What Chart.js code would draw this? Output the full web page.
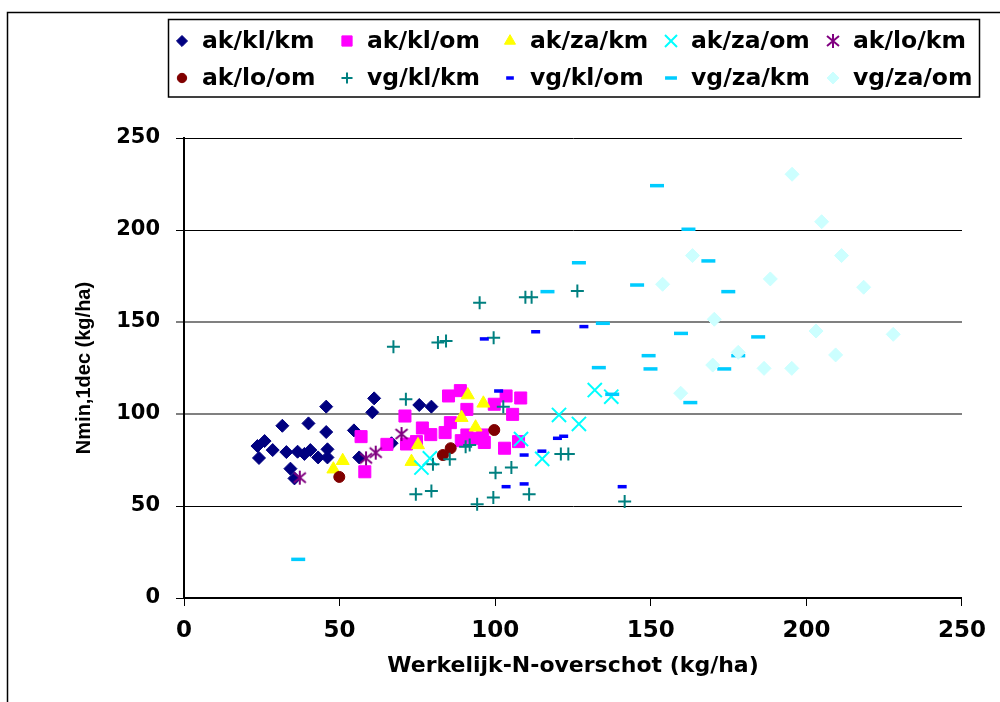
<!DOCTYPE html>
<html>
<head>
<meta charset="utf-8">
<title>Nmin,1dec vs Werkelijk-N-overschot</title>
<script src="https://cdn.jsdelivr.net/npm/chart.js@4.4.1/dist/chart.umd.min.js"></script>
<style>
  html, body { margin: 0; padding: 0; background: #fff; }
  canvas { display: block; }
</style>
</head>
<body>
<canvas id="chart" width="1000" height="702"></canvas>
<script>
// Series names (legend order)
const seriesNames = ['ak/kl/km', 'ak/kl/om', 'ak/za/km', 'ak/za/om', 'ak/lo/km',
                     'ak/lo/om', 'vg/kl/km', 'vg/kl/om', 'vg/za/km', 'vg/za/om'];

// [Werkelijk-N-overschot, Nmin,1dec] pairs, kg/ha
const akKlKm = [[23.6,82.6],[25.9,85.3],[24.1,76.1],[28.5,80.4],[31.6,93.6],[32.9,79.3],
  [34.2,70.3],[35.5,65],[36.5,79.5],[38.7,78.3],[40,94.9],[40.6,80.4],[43.1,76.4],
  [45.7,104],[45.7,90.2],[46.1,80.8],[46.1,76.4],[54.6,91.1],[56.3,76.4],[61.1,108.5],
  [60.5,100.9],[66.7,84.1],[75.6,104.9],[79.5,104]];
const akKlOm = [[56.9,87.7],[58.1,68.6],[65.2,83.5],[71,98.9],[71.5,83.7],[74.7,85],
  [76.6,92.4],[79.3,88.8],[83.9,89.9],[85,109.8],[85.6,95.3],[88.8,112.7],[89.1,85.5],
  [90.9,102.5],[90.9,88.6],[93.4,86.8],[96,88.6],[96.5,84.5],[99.7,105.3],[103,81.4],
  [103.5,109.8],[105.6,99.8],[107.5,85],[108.2,108.7]];
const akZaKm = [[48,70],[51,74.6],[73.1,74.1],[75.2,83.2],[89.2,98],[91.2,110.3],
  [93.7,92.8],[96.2,105.8]];
const akZaOm = [[76.3,70.9],[79,75.9],[108.3,86.4],[115.1,75.6],[120.5,99.5],
  [126.9,94.6],[132,113],[137.3,109.4]];
const akLoKm = [[37.2,65.4],[58.5,75.9],[61.6,79],[69.9,89.1]];
const akLoOm = [[49.9,65.8],[83.2,77.7],[85.7,81.4],[99.7,91.3]];
const vgKlKm = [[67.3,136.6],[71.3,108],[74.5,56.4],[79.5,58.2],[80,72.7],[81.6,138.8],
  [84.2,139.7],[85.4,75.4],[90.5,82.2],[91.8,83.2],[94.2,50.9],[95,160.5],[99.4,54.6],
  [99.5,141.5],[100.1,68.1],[102.6,104],[105.2,70.9],[109.7,163.4],[110.9,56.4],
  [111.7,163.4],[121.1,78.3],[123.5,78.3],[126.4,166.8],[141.6,52.4]];
const vgKlOm = [[96.5,140.8],[101.1,112.5],[103.5,60.5],[109.3,62],[109.3,77.7],
  [113,144.7],[115,79.8],[120,86.8],[122,87.9],[128.5,147.5],[140.8,60.5]];
const vgZaKm = [[36.7,21],[116.8,166.5],[126.9,182.2],[133.3,125.2],[134.6,149.3],
  [137.6,110.7],[145.6,170.1],[149.3,131.7],[149.9,124.5],[152,224.1],[159.7,143.8],
  [162.1,200.4],[162.7,106.2],[168.5,183.2],[173.6,124.5],[174.9,166.5],[178.1,131.7],
  [184.5,141.9]];
const vgZaOm = [[153.8,170.5],[159.6,111.3],[163.4,186.1],[169.9,126.6],[170.4,151.5],
  [178.1,133.5],[186.4,124.8],[188.4,173.4],[195.3,124.8],[195.4,230.3],[203.1,145.1],
  [204.9,204.5],[209.4,132.1],[211.3,186.1],[218.4,168.9],[227.9,143.3]];

// Axis tick values (both axes)
const axisTicks = [0, 50, 100, 150, 200, 250];

const seriesValues = [akKlKm, akKlOm, akZaKm, akZaOm, akLoKm, akLoOm, vgKlKm, vgKlOm, vgZaKm, vgZaOm];

// Asterisk marker: vertical stroke plus two diagonals
function asteriskMarker(color) {
  const c = document.createElement('canvas');
  c.width = 16; c.height = 16;
  const g = c.getContext('2d');
  g.strokeStyle = color;
  g.lineWidth = 2;
  g.beginPath();
  g.moveTo(8, 1); g.lineTo(8, 15);
  g.moveTo(2, 3); g.lineTo(14, 13);
  g.moveTo(14, 3); g.lineTo(2, 13);
  g.stroke();
  return c;
}

// Marker style for each series
const markerStyles = [
  { style: 'rectRot',  radius: 6.5, fill: '#000080', stroke: '#000080', width: 1 },
  { style: 'rect',     radius: 8.5, fill: '#FF00FF', stroke: '#FF00FF', width: 1 },
  { style: 'triangle', radius: 7.5, fill: '#FFFF00', stroke: '#FFFF00', width: 1 },
  { style: 'crossRot', radius: 10,  fill: '#00FFFF', stroke: '#00FFFF', width: 2 },
  { style: asteriskMarker('#800080'), radius: 8, fill: '#800080', stroke: '#800080', width: 2 },
  { style: 'circle',   radius: 5.5, fill: '#800000', stroke: '#800000', width: 1 },
  { style: 'cross',    radius: 6.5, fill: '#008080', stroke: '#008080', width: 2 },
  { style: 'line',     radius: 4.5, fill: '#0000FF', stroke: '#0000FF', width: 3.5 },
  { style: 'line',     radius: 7,   fill: '#00CCFF', stroke: '#00CCFF', width: 3.5 },
  { style: 'rectRot',  radius: 7,   fill: '#CCFFFF', stroke: '#CCFFFF', width: 1 }
];

const datasets = seriesNames.map((name, i) => ({
  label: name,
  data: seriesValues[i].map(p => ({ x: p[0], y: p[1] })),
  pointStyle: markerStyles[i].style,
  pointRadius: markerStyles[i].radius,
  pointHoverRadius: markerStyles[i].radius,
  backgroundColor: markerStyles[i].fill,
  borderColor: markerStyles[i].stroke,
  pointBackgroundColor: markerStyles[i].fill,
  pointBorderColor: markerStyles[i].stroke,
  pointBorderWidth: markerStyles[i].width,
  showLine: false,
  order: seriesNames.length - i   // later series painted on top
}));

const tickFontX = { family: 'DejaVu Sans', weight: 'bold', size: 23, lineHeight: 1 };
const tickFontY = { family: 'DejaVu Sans', weight: 'bold', size: 21, lineHeight: 1 };

// Background, outer frame and the two-row legend box
const framePlugin = {
  id: 'frameAndLegend',
  beforeDraw(chart) {
    const ctx = chart.ctx;
    ctx.save();
    ctx.fillStyle = '#fff';
    ctx.fillRect(0, 0, chart.width, chart.height);
    ctx.strokeStyle = '#000';
    ctx.lineWidth = 1.5;
    ctx.strokeRect(7.5, 12.5, 1100, 800);
    ctx.restore();
  },
  afterDraw(chart) {
    const ctx = chart.ctx;
    ctx.save();
    ctx.strokeStyle = '#000';
    ctx.lineWidth = 1.5;
    ctx.strokeRect(168.5, 19.5, 811, 77.5);

    const colX = [182, 347, 510, 671, 833];
    const rowY = [41, 78];
    ctx.font = 'bold 23.5px "DejaVu Sans"';
    ctx.textBaseline = 'middle';
    ctx.textAlign = 'left';
    chart.data.datasets.forEach((ds, i) => {
      const x = colX[i % 5];
      const y = rowY[Math.floor(i / 5)];
      const m = markerStyles[i];
      ctx.fillStyle = m.fill;
      ctx.strokeStyle = m.stroke;
      ctx.lineWidth = m.width;
      if (Chart.helpers && Chart.helpers.drawPoint) {
        Chart.helpers.drawPoint(ctx, {
          pointStyle: m.style, radius: m.radius * 0.85, rotation: 0, borderWidth: m.width
        }, x, y);
      }
      ctx.fillStyle = '#000';
      ctx.fillText(ds.label, x + 20, y + 1);
    });
    ctx.restore();
  }
};

new Chart(document.getElementById('chart'), {
  type: 'scatter',
  data: { datasets },
  plugins: [framePlugin],
  options: {
    responsive: false,
    animation: false,
    devicePixelRatio: 1,
    layout: { padding: { left: 0, right: 32, top: 138, bottom: 0 } },
    plugins: {
      legend: { display: false },
      tooltip: { enabled: false }
    },
    scales: {
      x: {
        type: 'linear',
        position: 'bottom',
        min: 0, max: 250,
        afterBuildTicks: s => { s.ticks = axisTicks.map(v => ({ value: v })); },
        afterFit: s => { s.height = 104; },
        border: { display: true, color: '#000', width: 2 },
        grid: { drawOnChartArea: false, drawTicks: true, tickLength: 8, color: '#000', lineWidth: 1 },
        ticks: { color: '#000', font: tickFontX, padding: 14, maxRotation: 0, autoSkip: false },
        title: {
          display: true,
          text: 'Werkelijk-N-overschot (kg/ha)',
          color: '#000',
          font: { family: 'DejaVu Sans', weight: 'bold', size: 22, lineHeight: 1.2 },
          padding: { top: 0, bottom: 23 }
        }
      },
      y: {
        type: 'linear',
        min: 0, max: 250,
        afterBuildTicks: s => { s.ticks = axisTicks.map(v => ({ value: v })); },
        afterFit: s => { s.width = 184; },
        border: { display: true, color: '#000', width: 2 },
        grid: {
          drawTicks: true,
          tickLength: 8,
          color: c => (c.tick && (c.tick.value === 100 || c.tick.value === 150)) ? '#808080' : '#000',
          lineWidth: c => (c.tick && (c.tick.value === 100 || c.tick.value === 150)) ? 2 : 1
        },
        ticks: { color: '#000', font: tickFontY, padding: 16, autoSkip: false },
        title: {
          display: true,
          text: 'Nmin,1dec (kg/ha)',
          color: '#000',
          font: { family: 'Liberation Sans', weight: 'bold', size: 20, lineHeight: 1.2 },
          padding: { top: 72, bottom: 0 }
        }
      }
    }
  }
});
</script>
</body>
</html>
